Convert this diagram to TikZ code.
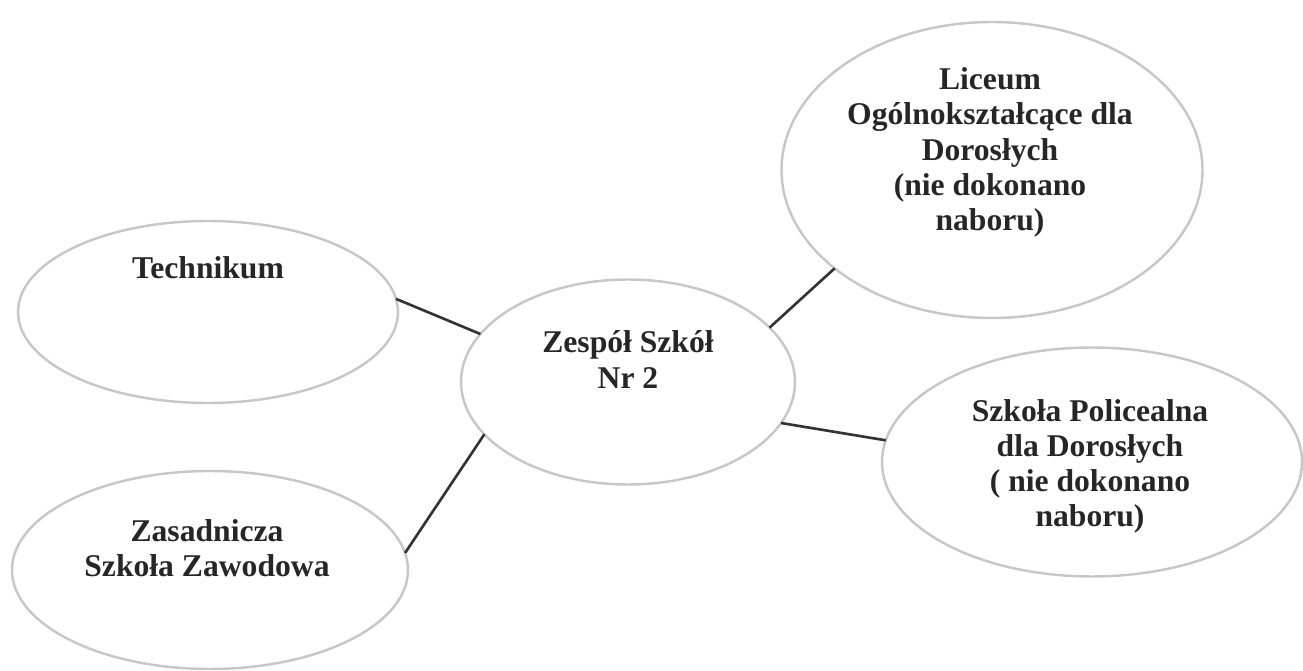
\documentclass[tikz,border=0pt]{standalone}
\usepackage{fontspec}
\setmainfont{Liberation Serif}
\usetikzlibrary{shapes.geometric,calc}

\begin{document}
\begin{tikzpicture}[
    szkola/.style={ellipse, draw=black!22, line width=1.4pt, inner sep=0pt, outer sep=0pt},
    napis/.style={align=center, text=black!85, font=\fontsize{18}{20}\selectfont\bfseries},
    linia/.style={draw=black!80, line width=1.5pt}
  ]
    \useasboundingbox (0,0) rectangle (26.06,13.42);
    \node[szkola, minimum width=6.68cm, minimum height=4.1cm] (zs) at (12.56,5.78) {};
    \node[szkola, minimum width=7.6cm, minimum height=3.64cm] (tech) at (4.16,7.18) {};
    \node[szkola, minimum width=7.92cm, minimum height=3.96cm] (zaw) at (4.2,2.02) {};
    \node[szkola, minimum width=8.42cm, minimum height=5.92cm] (lic) at (19.84,10.02) {};
    \node[szkola, minimum width=8.4cm, minimum height=4.58cm] (pol) at (21.84,4.18) {};
    \node[napis] (zsT) at ($(zs)+(0,0.45)$) {Zespół Szkół\\Nr 2};
    \node[napis] (techT) at ($(tech)+(0,0.88)$) {Technikum};
    \node[napis] (zawT) at ($(zaw)+(-0.06,0.43)$) {Zasadnicza\\Szkoła Zawodowa};
    \node[napis] (licT) at ($(lic)+(-0.04,0.35)$) {Liceum\\Ogólnokształcące dla\\Dorosłych\\(nie dokonano\\naboru)};
    \node[napis] (polT) at ($(pol)+(-0.04,-0.09)$) {Szkoła Policealna\\dla Dorosłych\\( nie dokonano\\naboru)};
    \draw[linia] (tech.4) -- (zs.162);
    \draw[linia] (zaw.5) -- (zs.200);
    \draw[linia] (zs.21) -- (lic.212);
    \draw[linia] (zs.-15) -- (pol.174);
  \end{tikzpicture}
\end{document}
